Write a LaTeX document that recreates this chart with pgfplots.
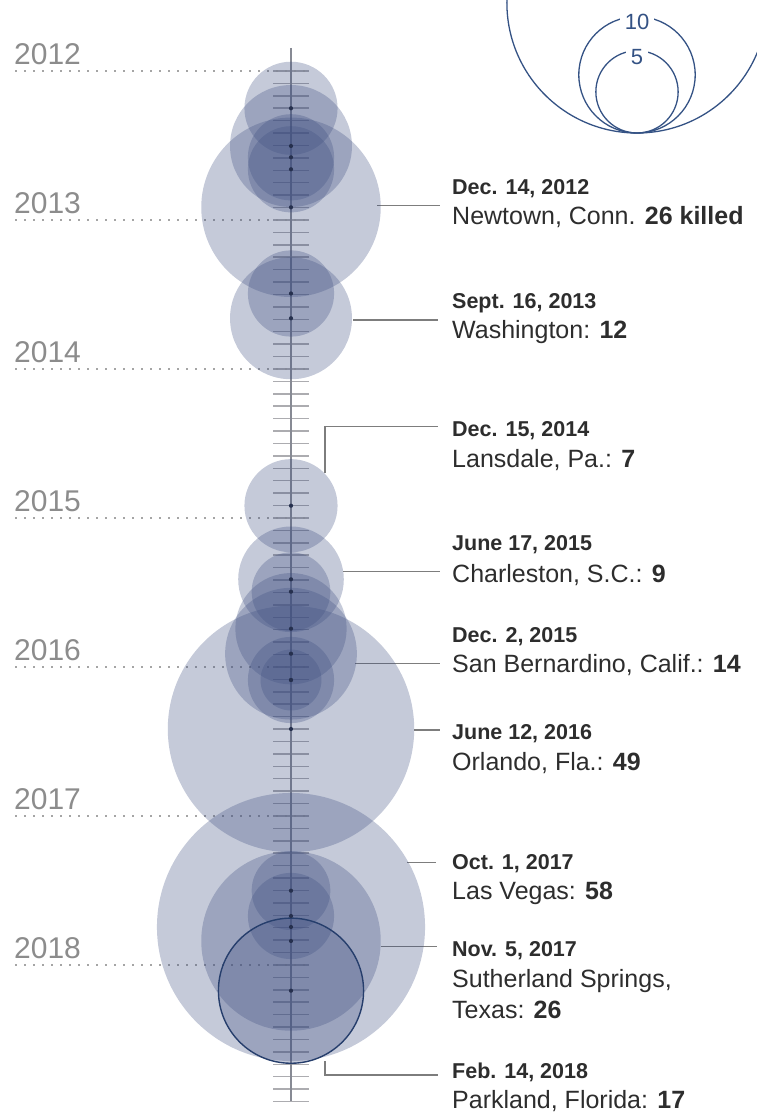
\documentclass[border=0pt]{standalone}
\usepackage{fontspec}
\setmainfont{Liberation Sans}
\usepackage{pgfplots}
\pgfplotsset{compat=1.18}
\usepackage{pgfplotstable}
\definecolor{bubble}{RGB}{62,78,128}
\definecolor{dotc}{RGB}{38,48,78}
\definecolor{yeargray}{RGB}{140,140,140}
\definecolor{guide}{RGB}{165,165,165}
\definecolor{tickc}{RGB}{172,172,176}
\definecolor{axisline}{RGB}{135,138,148}
\definecolor{leader}{RGB}{125,125,125}
\definecolor{legblue}{RGB}{52,82,132}
\definecolor{outline}{RGB}{38,62,108}
\definecolor{txt}{RGB}{45,45,45}
\newcommand{\Y}[1]{2011.5235+#1/149}
\tikzset{
  date/.style={font=\fontsize{21.5}{24}\selectfont\bfseries, text=txt, inner sep=0pt, anchor=base west},
  det/.style={font=\fontsize{25}{30}\selectfont, text=txt, inner sep=0pt, anchor=base west},
  lead/.style={draw=leader, line width=1.3pt}}

% date (decimal year) and number killed
\pgfplotstableread{
date killed
2012.2503 7
2012.5034 12
2012.5792 6
2012.6597 6
2012.9148 26
2013.4933 6
2013.6597 12
2014.9175 7
2015.4114 9
2015.4946 5
2015.7430 10
2015.9107 14
2016.0873 6
2016.0873 3
2016.4161 49
2017.5013 5
2017.6710 6
2017.7450 58
2017.8389 26
}\events

\pgfplotstableread{
date killed
2018.1725 17
}\parkland

% size legend: circle centre and number
\pgfplotstableread{
yc size
2012.1400 5
2012.0256 10
2011.5430 50
}\legendtab

\begin{document}
\begin{tikzpicture}
\begin{axis}[name=ax, x=1pt, y=149pt, y dir=reverse,
  xmin=0, xmax=756, ymin=2011.5235, ymax=2018.98659,
  hide axis, clip=true, set layers]

\begin{pgfonlayer}{axis background}
% monthly ticks
\pgfplotsinvokeforeach{0,...,83}{
  \draw[tickc, line width=1.5pt] (axis cs:273,{2012+#1/12}) -- (axis cs:309,{2012+#1/12});
}
% timeline
\draw[axisline, line width=1.2pt] (axis cs:291,{\Y{48}}) -- (axis cs:291,{\Y{1101}});
% year guides
\pgfplotsinvokeforeach{2012,...,2018}{
  \draw[guide, line width=1.6pt, dash pattern=on 1.6pt off 7.4pt] (axis cs:15,#1) -- (axis cs:307,#1);
  \node[anchor=base west, inner sep=0pt, text=yeargray, font=\fontsize{30}{30}\selectfont] at (axis cs:14,{#1-6.5/149}) {#1};
}
\end{pgfonlayer}

% bubbles: area proportional to number killed
\addplot[scatter, only marks, mark=*,
  scatter/use mapped color={draw=bubble, draw opacity=0, fill=bubble, fill opacity=0.3},
  visualization depends on={17.6*sqrt(\thisrow{killed}) \as \rad},
  scatter/@pre marker code/.append style={/tikz/mark size=\rad}]
  table[x expr=291, y=date] {\events};
\addplot[scatter, only marks, mark=*,
  scatter/use mapped color={draw=outline, line width=1.4pt, draw opacity=1, fill=bubble, fill opacity=0.3},
  visualization depends on={17.6*sqrt(\thisrow{killed}) \as \rad},
  scatter/@pre marker code/.append style={/tikz/mark size=\rad}]
  table[x expr=291, y=date] {\parkland};
% centre dots
\addplot[only marks, mark=*, mark size=2.1, mark options={fill=dotc, draw=dotc, draw opacity=0}]
  table[x expr=291, y=date] {\events};
\addplot[only marks, mark=*, mark size=2.1, mark options={fill=dotc, draw=dotc, draw opacity=0}]
  table[x expr=291, y=date] {\parkland};

% size legend
\addplot[scatter, only marks, mark=*,
  scatter/use mapped color={draw=legblue, line width=1.3pt, fill=white, fill opacity=0},
  visualization depends on={18.4*sqrt(\thisrow{size}) \as \rad},
  scatter/@pre marker code/.append style={/tikz/mark size=\rad}]
  table[x expr=637, y=yc] {\legendtab};
\begin{pgfonlayer}{axis foreground}
\node[fill=white, text=legblue, inner xsep=5pt, inner ysep=1pt, font=\fontsize{22}{22}\selectfont] at (axis cs:637,{\Y{21.5}}) {10};
\node[fill=white, text=legblue, inner xsep=5pt, inner ysep=1pt, font=\fontsize{22}{22}\selectfont] at (axis cs:637,{\Y{57}}) {5};
\end{pgfonlayer}

% annotations
\draw[lead] (axis cs:377,{\Y{205.7}}) -- (axis cs:440,{\Y{205.7}});
\node[date] at (axis cs:452,{\Y{195}}) {Dec. 14, 2012};
\node[det] at (axis cs:452,{\Y{225}}) {Newtown, Conn. \textbf{26 killed}};

\draw[lead] (axis cs:353,{\Y{320}}) -- (axis cs:438,{\Y{320}});
\node[date] at (axis cs:452,{\Y{308.3}}) {Sept. 16, 2013};
\node[det] at (axis cs:452,{\Y{339}}) {Washington: \textbf{12}};

\draw[lead] (axis cs:325,{\Y{473}}) -- (axis cs:325,{\Y{426.5}}) -- (axis cs:438,{\Y{426.5}});
\node[date] at (axis cs:452,{\Y{437}}) {Dec. 15, 2014};
\node[det] at (axis cs:452,{\Y{468}}) {Lansdale, Pa.: \textbf{7}};

\draw[lead] (axis cs:343,{\Y{571.7}}) -- (axis cs:440,{\Y{571.7}});
\node[date] at (axis cs:452,{\Y{550.7}}) {June 17, 2015};
\node[det] at (axis cs:452,{\Y{582.3}}) {Charleston, S.C.: \textbf{9}};

\draw[lead] (axis cs:355,{\Y{663.3}}) -- (axis cs:440,{\Y{663.3}});
\node[date] at (axis cs:452,{\Y{643}}) {Dec. 2, 2015};
\node[det] at (axis cs:452,{\Y{673}}) {San Bernardino, Calif.: \textbf{14}};

\draw[lead] (axis cs:414,{\Y{730}}) -- (axis cs:440,{\Y{730}});
\node[date] at (axis cs:452,{\Y{740}}) {June 12, 2016};
\node[det] at (axis cs:452,{\Y{771}}) {Orlando, Fla.: \textbf{49}};

\draw[lead] (axis cs:407,{\Y{862.5}}) -- (axis cs:436,{\Y{862.5}});
\node[date] at (axis cs:452,{\Y{869.3}}) {Oct. 1, 2017};
\node[det] at (axis cs:452,{\Y{900}}) {Las Vegas: \textbf{58}};

\draw[lead] (axis cs:381,{\Y{946.7}}) -- (axis cs:437,{\Y{946.7}});
\node[date] at (axis cs:452,{\Y{957}}) {Nov. 5, 2017};
\node[det] at (axis cs:452,{\Y{988}}) {Sutherland Springs,};
\node[det] at (axis cs:452,{\Y{1019}}) {Texas: \textbf{26}};

\draw[lead] (axis cs:325,{\Y{1061.5}}) -- (axis cs:325,{\Y{1075}}) -- (axis cs:438,{\Y{1075}});
\node[date] at (axis cs:452,{\Y{1078.3}}) {Feb. 14, 2018};
\node[det] at (axis cs:452,{\Y{1109}}) {Parkland, Florida: \textbf{17}};
\end{axis}
\pgfresetboundingbox
\path[use as bounding box] (ax.south west) rectangle (ax.north east);
\end{tikzpicture}
\end{document}
